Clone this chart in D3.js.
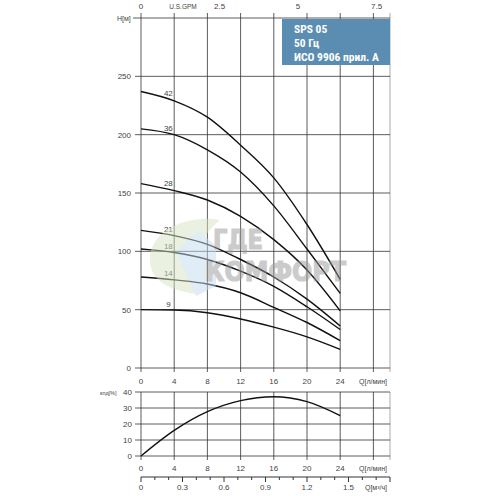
<!DOCTYPE html>
<html>
<head>
<meta charset="utf-8">
<script src="https://cdn.jsdelivr.net/npm/d3@7"></script>
<style>
  body { margin: 0; background: #fff; }
  svg { display: block; font-family: 'Liberation Sans', Arial, sans-serif; }
  .lbl { font-size: 8px; fill: #444; }
  .grid { stroke: #333; stroke-width: 0.8; }
</style>
</head>
<body>
<svg id="chart" width="496" height="496"></svg>
<script>
const flow = [0, 4, 8, 12, 16, 20, 24];
const stages = ['42', '36', '28', '21', '18', '14', '9'];
const head42 = [237, 229, 215, 191, 163, 123, 76];
const head36 = [205, 200, 187, 168, 139, 102, 64];
const head28 = [158, 152, 144, 130, 110, 84, 49];
const head21 = [118, 113.5, 106, 93, 78, 59, 36];
const head18 = [102, 99, 93, 83, 70, 52.5, 33];
const head14 = [78, 75.5, 72, 64.5, 52, 39, 23.5];
const head9 = [50, 49.7, 47.4, 42, 35, 26.7, 16];
const efficiency = [0, 16, 27.7, 34.6, 37, 34, 25.3];

const qTicks = [0, 4, 8, 12, 16, 20, 24];
const headTicks = [0, 50, 100, 150, 200, 250];
const effTicks = [0, 10, 20, 30, 40];
const gpmLabels = [0, 2.5, 5, 7.5];
const m3Labels = [0, 0.3, 0.6, 0.9, 1.2, 1.5];

const heads = [head42, head36, head28, head21, head18, head14, head9];

const svg = d3.select('#chart');

const x = d3.scaleLinear().domain([0, 30]).range([141, 390]);
const y = d3.scaleLinear().domain([0, 300]).range([368, 18]);
const yEff = d3.scaleLinear().domain([0, 40]).range([456, 392]);
const xGpm = d3.scaleLinear().domain([0, 30 / 3.785]).range([141, 390]);
const xM3 = d3.scaleLinear().domain([0, 1.8]).range([141, 390]);

const gridQ = d3.range(0, 30, 4);

// main chart grid
const main = svg.append('g');

main.selectAll('.vg')
  .data(gridQ)
  .join('line')
  .attr('class', 'grid')
  .attr('x1', (d) => x(d)).attr('x2', (d) => x(d))
  .attr('y1', 13).attr('y2', 372);

main.append('line')
  .attr('x1', x(30)).attr('x2', x(30))
  .attr('y1', 13).attr('y2', 372)
  .attr('stroke', '#aaa');

main.selectAll('.hg')
  .data(headTicks)
  .join('line')
  .attr('class', 'grid')
  .attr('x1', 135).attr('x2', x(30))
  .attr('y1', (d) => y(d)).attr('y2', (d) => y(d));

main.append('line')
  .attr('class', 'grid')
  .attr('x1', 133).attr('x2', x(30))
  .attr('y1', y(300)).attr('y2', y(300));

main.selectAll('.hl')
  .data(headTicks)
  .join('text')
  .attr('class', 'lbl')
  .attr('x', 131)
  .attr('y', (d) => y(d) + 3)
  .attr('text-anchor', 'end')
  .text((d) => d);

main.append('text')
  .attr('class', 'lbl')
  .attr('x', 117).attr('y', 21)
  .style('font-size', '7px')
  .text('H[м]');

// top GPM axis
main.selectAll('.gl')
  .data(gpmLabels)
  .join('text')
  .attr('class', 'lbl')
  .attr('x', (d) => xGpm(d))
  .attr('y', 9)
  .attr('text-anchor', 'middle')
  .text((d) => d);

main.append('text')
  .attr('class', 'lbl')
  .attr('x', 183).attr('y', 9)
  .attr('text-anchor', 'middle')
  .style('font-size', '6.5px')
  .text('U.S.GPM');

// bottom Q axis of main chart
main.selectAll('.ql')
  .data(qTicks)
  .join('text')
  .attr('class', 'lbl')
  .attr('x', (d) => x(d))
  .attr('y', 384)
  .attr('text-anchor', 'middle')
  .text((d) => d);

main.append('text')
  .attr('class', 'lbl')
  .attr('x', 373).attr('y', 384)
  .attr('text-anchor', 'middle')
  .style('font-size', '7px')
  .text('Q[л/мин]');

// head curves
const line = d3.line()
  .x((d, i) => x(flow[i]))
  .y((d) => y(d))
  .curve(d3.curveMonotoneX);

main.selectAll('.curve')
  .data(heads)
  .join('path')
  .attr('d', line)
  .attr('fill', 'none')
  .attr('stroke', '#111')
  .attr('stroke-width', 1.4);

main.selectAll('.stage')
  .data(heads)
  .join('text')
  .attr('class', 'lbl')
  .attr('x', x(3.3))
  .attr('y', (d) => y(d3.interpolateNumber(d[0], d[1])(0.8)) - 3)
  .attr('text-anchor', 'middle')
  .text((d, i) => stages[i]);

// watermark, drawn over the curves
const wm = svg.append('g').attr('opacity', 0.5);
wm.append('path')
  .attr('d', 'M150,262 C148,232 185,214 220,220 C200,236 190,262 196,294 C170,290 152,282 150,262 Z')
  .attr('fill', '#d6e4c4');
wm.append('path')
  .attr('d', 'M176,252 L198,230 L216,246 L216,286 L196,296 Z')
  .attr('fill', '#c4dcee');
wm.append('text')
  .attr('x', 213).attr('y', 249)
  .attr('font-size', 26).attr('font-weight', 'bold')
  .attr('font-family', 'DejaVu Sans, sans-serif')
  .attr('fill', '#999').attr('stroke', '#999').attr('stroke-width', 1.2)
  .attr('textLength', 50)
  .attr('lengthAdjust', 'spacingAndGlyphs')
  .text('ГДЕ');
wm.append('text')
  .attr('x', 205).attr('y', 281)
  .attr('font-size', 26).attr('font-weight', 'bold')
  .attr('font-family', 'DejaVu Sans, sans-serif')
  .attr('fill', '#999').attr('stroke', '#999').attr('stroke-width', 1.2)
  .attr('textLength', 141)
  .attr('lengthAdjust', 'spacingAndGlyphs')
  .text('КОМФОРТ');

// title box
const box = svg.append('g');
box.append('rect')
  .attr('x', 282).attr('y', 19)
  .attr('width', x(30) - 282).attr('height', 46)
  .attr('fill', '#5a8db1');

const titleLines = ['SPS 05', '50 Гц', 'ИСО 9906 прил. A'];
box.selectAll('text')
  .data(titleLines)
  .join('text')
  .attr('x', 294)
  .attr('y', (d, i) => 33 + i * 14)
  .attr('fill', '#fff')
  .attr('font-size', 11.5)
  .attr('font-weight', 'bold')
  .attr('font-family', 'Roboto, DejaVu Sans Condensed, sans-serif')
  .style('font-stretch', 'condensed')
  .text((d) => d);

// efficiency chart
const eff = svg.append('g');

eff.selectAll('.vg')
  .data(gridQ)
  .join('line')
  .attr('class', 'grid')
  .attr('x1', (d) => x(d)).attr('x2', (d) => x(d))
  .attr('y1', 392).attr('y2', 460);

eff.append('line')
  .attr('x1', x(30)).attr('x2', x(30))
  .attr('y1', 392).attr('y2', 460)
  .attr('stroke', '#aaa');

eff.selectAll('.hg')
  .data(effTicks)
  .join('line')
  .attr('class', 'grid')
  .attr('x1', 135).attr('x2', x(30))
  .attr('y1', (d) => yEff(d)).attr('y2', (d) => yEff(d));

eff.selectAll('.hl')
  .data(effTicks)
  .join('text')
  .attr('class', 'lbl')
  .attr('x', 132)
  .attr('y', (d) => yEff(d) + 3)
  .attr('text-anchor', 'end')
  .text((d) => d);

eff.append('text')
  .attr('class', 'lbl')
  .attr('x', 100).attr('y', 394.5)
  .style('font-size', '5.5px')
  .text('кпд[%]');

eff.append('path')
  .datum(efficiency)
  .attr('d', d3.line()
    .x((d, i) => x(flow[i]))
    .y((d) => yEff(d))
    .curve(d3.curveMonotoneX))
  .attr('fill', 'none')
  .attr('stroke', '#111')
  .attr('stroke-width', 1.4);

eff.selectAll('.ql')
  .data(qTicks)
  .join('text')
  .attr('class', 'lbl')
  .attr('x', (d) => x(d))
  .attr('y', 471)
  .attr('text-anchor', 'middle')
  .text((d) => d);

eff.append('text')
  .attr('class', 'lbl')
  .attr('x', 373).attr('y', 471)
  .attr('text-anchor', 'middle')
  .style('font-size', '7px')
  .text('Q[л/мин]');

// m3/h axis
const m3 = svg.append('g');
m3.append('line')
  .attr('x1', 141).attr('x2', x(30))
  .attr('y1', 477).attr('y2', 477)
  .attr('stroke', '#333');

m3.selectAll('.tk')
  .data(d3.range(0, 19).map((i) => i / 10))
  .join('line')
  .attr('x1', (d) => xM3(d)).attr('x2', (d) => xM3(d))
  .attr('y1', 477)
  .attr('y2', (d, i) => (i % 3 === 0 ? 482 : 480))
  .attr('stroke', '#333');

m3.selectAll('.ml')
  .data(m3Labels)
  .join('text')
  .attr('class', 'lbl')
  .attr('x', (d) => xM3(d))
  .attr('y', 490)
  .attr('text-anchor', 'middle')
  .text((d) => d);

m3.append('text')
  .attr('class', 'lbl')
  .attr('x', 376).attr('y', 490)
  .attr('text-anchor', 'middle')
  .style('font-size', '7px')
  .text('Q[м³/ч]');
</script>
</body>
</html>
